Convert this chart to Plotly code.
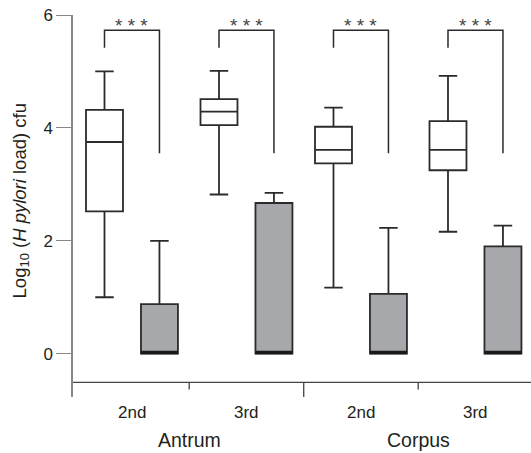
import plotly.graph_objects as go

# ---- data ----
categories = ["2nd", "3rd", "2nd", "3rd"]
groups = ["Antrum", "Corpus"]
# white boxes (first series)
w_low = [1.00, 2.82, 1.17, 2.16]
w_q1 = [2.52, 4.05, 3.37, 3.25]
w_med = [3.75, 4.29, 3.61, 3.61]
w_q3 = [4.32, 4.51, 4.02, 4.12]
w_high = [5.00, 5.01, 4.36, 4.92]
# gray boxes (second series)
g_low = [0.0, 0.0, 0.0, 0.0]
g_q1 = [0.0, 0.0, 0.0, 0.0]
g_med = [0.0, 0.0, 0.0, 0.0]
g_q3 = [0.88, 2.67, 1.06, 1.90]
g_high = [2.00, 2.85, 2.23, 2.27]
signif = ["* * *", "* * *", "* * *", "* * *"]
y_ticks = [0, 2, 4, 6]

# ---- style ----
FONT = "Liberation Sans, Arial, sans-serif"
TXT = "#231f20"
LINE = "#2b2b2b"
GRAY = "#a7a8ab"
OFF = 0.24
BW = 0.323
X_AXIS_Y = -0.507
Y_MIN = -0.767
BR_TOP, BR_LEFT_BOTTOM, BR_RIGHT_BOTTOM = 5.73, 5.42, 3.55

fig = go.Figure()
n = len(categories)
wpos = [i + 0.5 - OFF for i in range(n)]
gpos = [i + 0.5 + OFF for i in range(n)]

for i in range(n):
    fig.add_trace(go.Box(x=[wpos[i]], q1=[w_q1[i]], median=[w_med[i]], q3=[w_q3[i]],
                         lowerfence=[w_low[i]], upperfence=[w_high[i]],
                         fillcolor="white", line=dict(color=LINE, width=1.8),
                         width=BW, whiskerwidth=0.5, boxpoints=False,
                         showlegend=False, hoverinfo="skip"))
    fig.add_trace(go.Box(x=[gpos[i]], q1=[g_q1[i]], median=[g_med[i]], q3=[g_q3[i]],
                         lowerfence=[g_low[i]], upperfence=[g_high[i]],
                         fillcolor=GRAY, line=dict(color=LINE, width=1.8),
                         width=BW, whiskerwidth=0.5, boxpoints=False,
                         showlegend=False, hoverinfo="skip"))
    # thick median line on gray boxes
    fig.add_trace(go.Scatter(x=[gpos[i] - BW / 2, gpos[i] + BW / 2], y=[g_med[i] + 0.02, g_med[i] + 0.02],
                             mode="lines", line=dict(color="#1a1a1a", width=3.5),
                             showlegend=False, hoverinfo="skip"))
    # significance bracket
    fig.add_trace(go.Scatter(x=[wpos[i], wpos[i], gpos[i], gpos[i]],
                             y=[BR_LEFT_BOTTOM, BR_TOP, BR_TOP, BR_RIGHT_BOTTOM],
                             mode="lines", line=dict(color=LINE, width=1.5),
                             showlegend=False, hoverinfo="skip"))
    fig.add_annotation(x=(wpos[i] + gpos[i]) / 2, y=BR_TOP, yshift=5, text=signif[i],
                       showarrow=False, yanchor="middle", xanchor="center",
                       font=dict(family=FONT, size=19, color="#444"))
    fig.add_annotation(x=i + 0.5, xref="x", y=-0.0406, yref="paper", text=categories[i],
                       showarrow=False, yanchor="middle",
                       font=dict(family=FONT, size=17, color=TXT))

# group labels
for j, g in enumerate(groups):
    fig.add_annotation(x=2 * j + 1, xref="x", y=-0.113, yref="paper", text=g,
                       showarrow=False, yanchor="middle",
                       font=dict(family=FONT, size=19.5, color=TXT))

# x-axis line and category ticks
fig.add_shape(type="line", xref="paper", x0=0, x1=1, yref="y", y0=X_AXIS_Y, y1=X_AXIS_Y,
              line=dict(color="#444", width=1.3))
for k in range(1, n):
    fig.add_shape(type="line", xref="x", x0=k, x1=k, yref="y", y0=X_AXIS_Y,
                  y1=(Y_MIN if k == n // 2 else X_AXIS_Y - 0.125),
                  line=dict(color="#444", width=1.3))

# y-axis title
fig.add_annotation(x=-0.1135, xref="paper", y=0.512, yref="paper", xanchor="center", yanchor="middle",
                   text="Log<sub>10</sub> (<i>H pylori</i> load) cfu", textangle=-90,
                   showarrow=False, font=dict(family=FONT, size=18.5, color=TXT))

fig.update_layout(
    width=531, height=453,
    margin=dict(l=73, r=0, t=15, b=56),
    plot_bgcolor="white", paper_bgcolor="white",
    boxmode="overlay",
    xaxis=dict(range=[-0.015, 3.985], showgrid=False, zeroline=False, showline=False,
               showticklabels=False, ticks=""),
    yaxis=dict(range=[Y_MIN, 6], showgrid=False, zeroline=False, showline=True,
               linecolor="#888", linewidth=1.5, ticks="outside", ticklen=15,
               tickcolor="#888", tickwidth=1.3, tickvals=y_ticks,
               tickfont=dict(family=FONT, size=17, color=TXT)),
    font=dict(family=FONT, color=TXT),
)

fig.write_html("out.html", config={"displayModeBar": False},
               post_script="document.body.style.margin='0';document.body.style.overflow='hidden';")
